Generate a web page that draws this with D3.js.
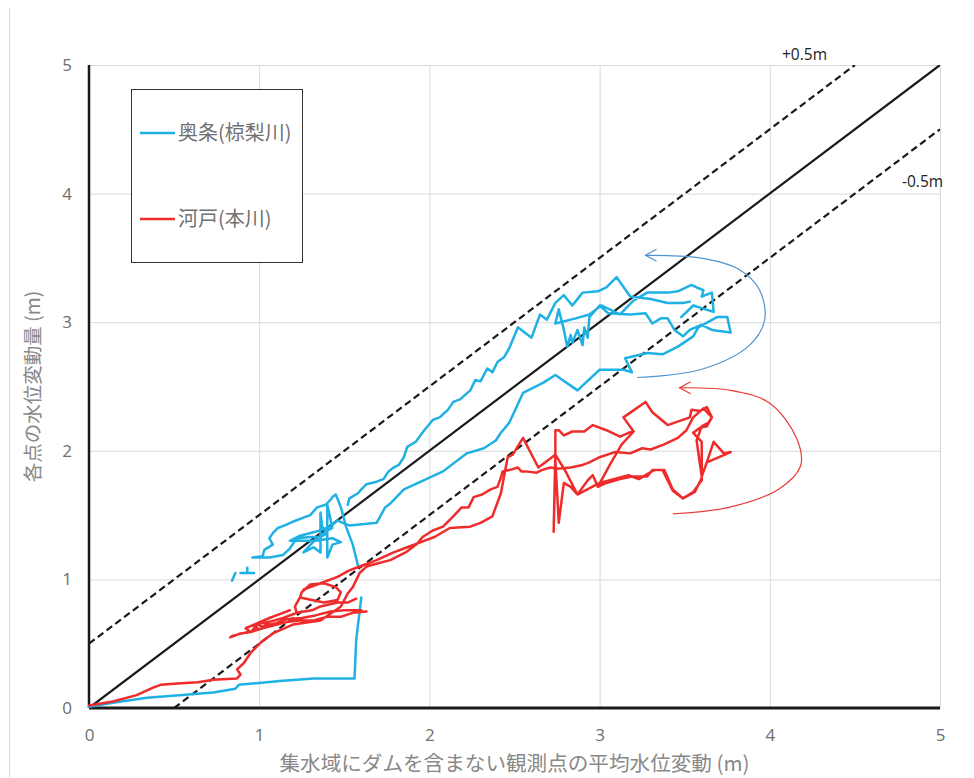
<!DOCTYPE html>
<html><head><meta charset="utf-8">
<script src="https://cdn.jsdelivr.net/npm/d3@7"></script>
<style>
html,body{margin:0;padding:0;background:#fff;}
svg{display:block;}
text{font-family:"Noto Sans CJK JP","Noto Sans",sans-serif;}
</style></head>
<body><svg id="chart" width="974" height="778"></svg>
<script>
// ---- data (in metres) ----
const xTicks = [0, 1, 2, 3, 4, 5];
const yTicks = [0, 1, 2, 3, 4, 5];
const seriesNames = ["奥条(椋梨川)", "河戸(本川)"];
const xTitle = "集水域にダムを含まない観測点の平均水位変動 (m)";
const yTitle = "各点の水位変動量 (m)";
const refOffsets = [0, 0.5, -0.5];
const refLabels = ["+0.5m", "-0.5m"];

const okujo = [
[0,0.01],[0.14,0.04],[0.34,0.08],[0.53,0.10],[0.73,0.12],[0.86,0.15],[0.88,0.18],[0.96,0.19],[1.12,0.21],[1.32,0.23],[1.56,0.23],[1.57,0.53],[1.60,0.86], null,
[0.84,0.99],[0.86,1.05], null, [0.89,1.05],[0.97,1.05], null, [0.93,1.05],[0.93,1.09], null,
[1.58,1.11],[1.55,1.27],[1.51,1.41],[1.48,1.56],[1.45,1.66],[1.43,1.64],[1.42,1.62],[1.39,1.58],[1.34,1.56],[1.30,1.50],[1.26,1.48],[1.20,1.45],[1.15,1.42],[1.11,1.40],[1.08,1.36],[1.06,1.32],[1.08,1.27],[1.03,1.23],[1.02,1.18],[0.96,1.17],[1.06,1.17],[1.14,1.19],[1.18,1.24],[1.22,1.32],[1.30,1.33],[1.36,1.33],[1.40,1.36],[1.37,1.41],[1.36,1.52],[1.36,1.21],[1.32,1.25],[1.26,1.21],[1.33,1.31],[1.40,1.38],[1.43,1.40],[1.40,1.58],[1.40,1.17],[1.43,1.27],[1.48,1.29],[1.43,1.32],[1.33,1.30],[1.22,1.30],[1.18,1.30],[1.24,1.34],[1.33,1.37],[1.42,1.41],[1.46,1.46],[1.49,1.44],[1.53,1.42],[1.62,1.43],[1.69,1.44],[1.74,1.56],[1.77,1.59],[1.85,1.70],[1.95,1.76],[2.08,1.84],[2.22,1.98],[2.32,2.02],[2.39,2.08],[2.42,2.14],[2.47,2.22],[2.55,2.45],[2.67,2.53],[2.74,2.59],[2.87,2.47],[3.00,2.63],[3.14,2.63],[3.19,2.61],[3.15,2.72],[3.28,2.76],[3.37,2.75],[3.46,2.81],[3.55,2.89],[3.58,2.96],[3.69,3.04],[3.75,3.04],[3.77,2.92],[3.66,2.94],[3.60,2.98],[3.53,2.94],[3.49,2.89],[3.44,2.94],[3.40,3.03],[3.36,3.03],[3.31,2.99],[3.27,3.07],[3.18,3.06],[3.05,3.07],[3.00,3.13],[2.94,3.04],[2.93,2.88],[2.91,2.96],[2.90,2.82],[2.87,2.94],[2.84,2.84],[2.83,2.90],[2.81,2.81],[2.79,2.94],[2.76,3.10],[2.74,2.99],[2.86,3.03],[2.94,3.06],[3.01,3.13],[3.12,3.06],[3.20,3.17],[3.28,3.23],[3.40,3.23],[3.46,3.24],[3.54,3.29],[3.57,3.27],[3.61,3.25],[3.60,3.20],[3.66,3.23],[3.67,3.08],[3.55,3.13],[3.48,3.04], null,
[3.53,3.16],[3.49,3.15],[3.40,3.15],[3.30,3.18],[3.18,3.20],[3.10,3.35],[3.04,3.27],[2.99,3.24],[2.90,3.23],[2.84,3.13],[2.79,3.21],[2.74,3.15],[2.69,3.02],[2.65,3.06],[2.60,2.88],[2.52,2.96],[2.47,2.80],[2.44,2.73],[2.40,2.69],[2.37,2.61],[2.34,2.64],[2.30,2.54],[2.27,2.55],[2.24,2.47],[2.18,2.40],[2.14,2.38],[2.11,2.32],[2.06,2.26],[2.02,2.24],[1.97,2.16],[1.92,2.07],[1.87,2.03],[1.85,1.95],[1.82,1.89],[1.79,1.87],[1.76,1.84],[1.73,1.78],[1.69,1.76],[1.63,1.74],[1.60,1.70],[1.58,1.67],[1.53,1.63],[1.52,1.58]
];

const kawado = [
[0,0.02],[0.14,0.05],[0.28,0.10],[0.38,0.16],[0.42,0.18],[0.52,0.19],[0.64,0.20],[0.73,0.22],[0.87,0.23],[0.89,0.26],[0.87,0.30],[0.91,0.35],[0.95,0.43],[1.01,0.51],[1.08,0.58],[1.20,0.65],[1.36,0.68],[1.48,0.79],[1.52,0.89],[1.55,0.94],[1.59,1.05],[1.63,1.10],[1.71,1.13],[1.77,1.15],[1.86,1.21],[1.93,1.28],[1.96,1.33],[2.02,1.38],[2.08,1.41],[2.14,1.49],[2.19,1.56],[2.23,1.56],[2.26,1.64],[2.31,1.66],[2.36,1.70],[2.40,1.72],[2.42,1.79],[2.43,1.84],[2.47,1.85],[2.52,1.87],[2.54,1.84],[2.57,1.84],[2.63,1.83],[2.66,1.85],[2.71,1.87],[2.75,1.86],[2.83,1.87],[2.90,1.89],[2.94,1.91],[3.00,1.95],[3.09,1.99],[3.18,1.98],[3.25,2.02],[3.30,2.01],[3.38,2.05],[3.46,2.10],[3.51,2.16],[3.55,2.26],[3.61,2.33],[3.66,2.26],[3.63,2.19],[3.59,2.18],[3.55,2.14],[3.60,2.07],[3.60,1.77],[3.55,1.68],[3.49,1.63],[3.43,1.70],[3.38,1.85],[3.31,1.85],[3.28,1.80],[3.19,1.80],[3.12,1.78],[3.04,1.75],[2.99,1.72],[2.96,1.81],[2.93,1.77],[2.87,1.66],[2.83,1.72],[2.79,1.75],[2.76,1.44],[2.74,1.93],[2.73,1.37],[2.74,1.98],[2.74,2.16],[2.76,2.16],[2.79,2.12],[2.84,2.15],[2.91,2.15],[2.96,2.20],[3.04,2.16],[3.12,2.11],[3.17,2.14],[3.20,2.15],[3.14,2.26],[3.27,2.38],[3.31,2.30],[3.40,2.20],[3.53,2.26],[3.54,2.32],[3.59,2.31],[3.63,2.34],[3.66,2.26],[3.64,2.22],[3.60,2.19],[3.57,2.08],[3.60,1.80],[3.63,1.91],[3.67,2.07],[3.73,1.98],[3.77,1.99],[3.63,1.91], null,
[2.24,1.41],[2.30,1.44],[2.37,1.49],[2.42,1.67],[2.46,1.95],[2.49,1.97],[2.55,2.10],[2.64,1.87],[2.74,1.97],[2.80,1.84],[2.87,1.66],[3.00,1.75],[3.17,1.81],[3.23,1.78],[3.32,1.85],[3.37,1.85],[3.43,1.69],[3.49,1.63],[3.56,1.68],[3.60,1.79], null,
[2.99,1.72],[3.06,1.89],[3.13,2.05],[3.20,2.15], null,
[0.83,0.55],[0.89,0.58],[0.95,0.59],[0.99,0.65],[1.02,0.63],[1.06,0.67],[1.14,0.70],[1.22,0.74],[1.31,0.76],[1.36,0.79],[1.46,0.82],[1.52,0.82],[1.57,0.85], null,
[1.63,0.75],[1.55,0.74],[1.48,0.71],[1.40,0.71],[1.32,0.68],[1.24,0.68],[1.17,0.67],[1.11,0.65],[1.02,0.62],[0.95,0.59],[0.92,0.62],[0.99,0.66],[1.06,0.70],[1.14,0.74],[1.18,0.76], null,
[0.84,0.56],[0.90,0.58],[0.96,0.60],[0.99,0.62],[0.97,0.65],[1.02,0.66],[1.06,0.67],[1.03,0.64],[1.10,0.66],[1.16,0.69],[1.25,0.70],[1.33,0.72],[1.42,0.75],[1.50,0.76],[1.60,0.76], null,
[1.22,0.74],[1.21,0.79],[1.24,0.86],[1.38,0.82],[1.46,0.84],[1.48,0.90],[1.45,0.94],[1.38,0.97],[1.30,0.96],[1.25,0.90],[1.24,0.86], null,
[1.26,0.92],[1.36,0.97],[1.46,1.02],[1.53,1.07],[1.59,1.10],[1.69,1.15],[1.79,1.21],[1.87,1.25],[1.95,1.29],[2.03,1.33],[2.12,1.40],[2.24,1.41]
];

// annotation arrows (hand-drawn curves showing direction of the loops)
const blueArrow = [[3.22,2.57],[3.59,2.63],[3.88,2.82],[3.97,3.02],[3.94,3.25],[3.82,3.41],[3.59,3.50],[3.27,3.52]];
const redArrow  = [[3.43,1.51],[3.76,1.56],[4.05,1.70],[4.18,1.88],[4.16,2.09],[4.00,2.37],[3.77,2.47],[3.47,2.49]];

const colors = ["#1fb1e3", "#ee2c2c"];

// ---- drawing ----
const svg = d3.select("#chart");
const x = d3.scaleLinear().domain([0,5]).range([89,940]);
const y = d3.scaleLinear().domain([0,5]).range([708,65]);

// outer frame edge
svg.append("line").attr("x1",9.5).attr("x2",9.5).attr("y1",8).attr("y2",778)
  .attr("stroke","#d9d9d9").attr("stroke-width",1);

// gridlines
const grid = svg.append("g");
grid.selectAll(".gx").data(xTicks.filter(d=>d>0)).join("line")
  .attr("x1",d=>x(d)+0.5).attr("x2",d=>x(d)+0.5).attr("y1",y(0)).attr("y2",y(5))
  .attr("stroke","#d9d9d9").attr("stroke-width",1);
grid.selectAll(".gy").data(yTicks.filter(d=>d>0)).join("line")
  .attr("x1",x(0)).attr("x2",x(5)).attr("y1",d=>y(d)+0.5).attr("y2",d=>y(d)+0.5)
  .attr("stroke","#d9d9d9").attr("stroke-width",1);

// axes
const xAxis = d3.axisBottom(x).tickValues(xTicks).tickSize(0).tickPadding(21).tickFormat(d3.format("d"));
const yAxis = d3.axisLeft(y).tickValues(yTicks).tickSize(0).tickPadding(17).tickFormat(d3.format("d"));
const gx = svg.append("g").attr("transform",`translate(0,${y(0)})`).call(xAxis);
const gy = svg.append("g").attr("transform",`translate(${x(0)},0)`).call(yAxis);
[gx,gy].forEach(g=>{
  g.select(".domain").remove();
  g.selectAll("text").attr("fill","#6e6e6e").style("font-size","17px").style("font-family","'Open Sans','Noto Sans',sans-serif");
});

// reference lines y = x + offset
const clipId = "plotclip";
svg.append("clipPath").attr("id",clipId).append("rect")
  .attr("x",x(0)).attr("y",y(5)).attr("width",x(5)-x(0)).attr("height",y(0)-y(5));
const refG = svg.append("g").attr("clip-path",`url(#${clipId})`);
refOffsets.forEach(o=>{
  const x0 = Math.max(0,-o), x1 = Math.min(5,5-o);
  refG.append("line")
    .attr("x1",x(x0)).attr("y1",y(x0+o)).attr("x2",x(x1)).attr("y2",y(x1+o))
    .attr("stroke","#1a1a1a").attr("stroke-width",2.2)
    .attr("stroke-dasharray", o===0 ? null : "7,4");
});

// axis lines (black)
svg.append("line").attr("x1",x(0)).attr("x2",x(0)).attr("y1",y(0)).attr("y2",y(5))
  .attr("stroke","#1a1a1a").attr("stroke-width",2.5);
svg.append("line").attr("x1",x(0)).attr("x2",x(5)).attr("y1",y(0)).attr("y2",y(0))
  .attr("stroke","#1a1a1a").attr("stroke-width",3);

// series
const line = d3.line().defined(d=>d!==null).x(d=>x(d[0])).y(d=>y(d[1]));
[okujo,kawado].forEach((s,i)=>{
  svg.append("path").datum(s).attr("d",line).attr("fill","none")
    .attr("stroke",colors[i]).attr("stroke-width",2.5).attr("stroke-linejoin","round").attr("stroke-linecap","round");
});

// annotation arrows
const curve = d3.line().x(d=>x(d[0])).y(d=>y(d[1])).curve(d3.curveCatmullRom.alpha(0.5));
[[blueArrow,"#4f95d0"],[redArrow,"#ea3a35"]].forEach(([pts,c])=>{
  svg.append("path").datum(pts).attr("d",curve).attr("fill","none").attr("stroke",c).attr("stroke-width",1.2);
  const tip = pts[pts.length-1];
  const tx = x(tip[0]), ty = y(tip[1]);
  svg.append("path").attr("d",`M${tx+11},${ty-6}L${tx},${ty}L${tx+11},${ty+6}`)
    .attr("fill","none").attr("stroke",c).attr("stroke-width",1.2);
});

// reference labels
const lblFont = "'Open Sans','Noto Sans',sans-serif";
svg.append("text").attr("x",782).attr("y",y(5)-5).text(refLabels[0])
  .attr("fill","#222").style("font-size","15.5px").style("font-family",lblFont);
svg.append("text").attr("x",902).attr("y",y(4.0)-7).text(refLabels[1])
  .attr("fill","#222").style("font-size","15.5px").style("font-family",lblFont);

// legend
const lg = svg.append("g");
lg.append("rect").attr("x",131.5).attr("y",89.5).attr("width",171).attr("height",173)
  .attr("fill","#fff").attr("stroke","#333").attr("stroke-width",1);
seriesNames.forEach((n,i)=>{
  const yy = i===0 ? 133 : 219;
  lg.append("line").attr("x1",140).attr("x2",175).attr("y1",yy).attr("y2",yy)
    .attr("stroke",colors[i]).attr("stroke-width",2.5);
  lg.append("text").attr("x",178).attr("y",yy+7).text(n).attr("fill","#707070").style("font-size","20px");
});

// axis titles
svg.append("text").attr("x",(x(0)+x(5))/2).attr("y",771).attr("text-anchor","middle")
  .text(xTitle).attr("fill","#888").style("font-size","20.6px");
svg.append("text").attr("transform",`translate(40,${(y(0)+y(5))/2}) rotate(-90)`).attr("text-anchor","middle")
  .text(yTitle).attr("fill","#888").style("font-size","19.5px");
</script></body></html>
